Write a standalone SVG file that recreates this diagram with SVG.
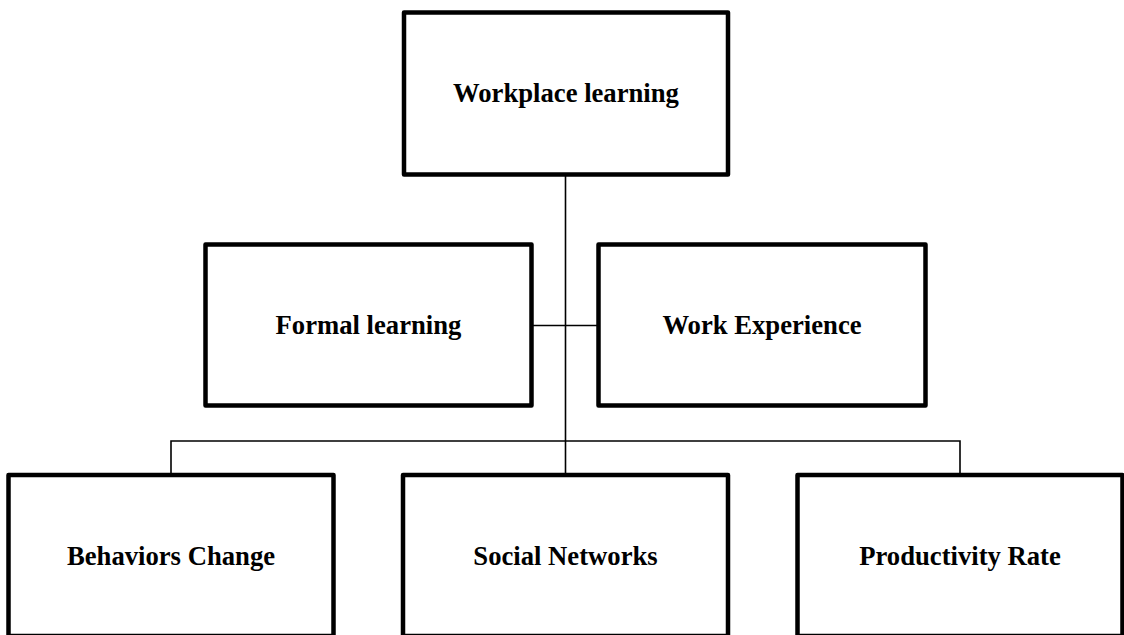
<svg xmlns="http://www.w3.org/2000/svg" width="1124" height="635" viewBox="0 0 1124 635">
  <style>
    .box { fill: #ffffff; stroke: #000000; stroke-width: 4.5; stroke-linejoin: round; }
    .conn { stroke: #000000; stroke-width: 1.6; fill: none; }
    .lbl { font-family: "Liberation Serif", "Times New Roman", serif; font-weight: bold; font-size: 26.67px; fill: #000000; text-anchor: middle; }
  </style>
  <rect width="1124" height="635" fill="#ffffff"/>
  <g id="connectors">
    <line class="conn" x1="565.5" y1="176" x2="565.5" y2="474"/>
    <line class="conn" x1="531.5" y1="325.5" x2="598.5" y2="325.5"/>
    <polyline class="conn" points="171,474 171,441 960,441 960,474"/>
  </g>
  <g id="workplace-learning">
    <rect class="box" x="404" y="12.5" width="324" height="162"/>
    <text class="lbl" x="566" y="102">Workplace learning</text>
  </g>
  <g id="formal-learning">
    <rect class="box" x="205.5" y="244.5" width="326" height="161"/>
    <text class="lbl" x="368.5" y="334">Formal learning</text>
  </g>
  <g id="work-experience">
    <rect class="box" x="598.5" y="244.5" width="327" height="161"/>
    <text class="lbl" x="762" y="334">Work Experience</text>
  </g>
  <g id="behaviors-change">
    <rect class="box" x="8.5" y="475" width="325" height="161"/>
    <text class="lbl" x="171" y="565">Behaviors Change</text>
  </g>
  <g id="social-networks">
    <rect class="box" x="403" y="475" width="325" height="161"/>
    <text class="lbl" x="565.5" y="565">Social Networks</text>
  </g>
  <g id="productivity-rate">
    <rect class="box" x="797.5" y="475" width="325" height="161"/>
    <text class="lbl" x="960" y="565">Productivity Rate</text>
  </g>
</svg>
